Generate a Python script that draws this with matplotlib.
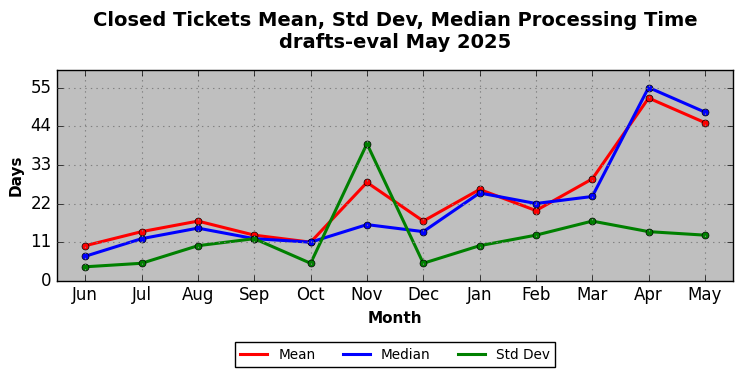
import matplotlib
matplotlib.use("Agg")
import matplotlib.pyplot as plt

months = ["Jun", "Jul", "Aug", "Sep", "Oct", "Nov", "Dec", "Jan", "Feb", "Mar", "Apr", "May"]
mean_days = [10, 14, 17, 13, 11, 28, 17, 26, 20, 29, 52, 45]
median_days = [7, 12, 15, 12, 11, 16, 14, 25, 22, 24, 55, 48]
std_days = [4, 5, 10, 12, 5, 39, 5, 10, 13, 17, 14, 13]
yticks = [0, 11, 22, 33, 44, 55]

plt.style.use("classic")
fig, ax = plt.subplots(figsize=(7.42, 3.78), dpi=100)
fig.patch.set_facecolor("white")
ax.set_facecolor("#bfbfbf")

x = list(range(len(months)))
ax.plot(x, mean_days, color="red", lw=2.2, marker="o", ms=5, mec="black", label="Mean")
ax.plot(x, median_days, color="blue", lw=2.2, marker="o", ms=5, mec="black", label="Median")
ax.plot(x, std_days, color="green", lw=2.2, marker="o", ms=5, mec="black", label="Std Dev")

ax.set_xticks(x)
ax.set_xticklabels(months)
ax.set_yticks(yticks)
ax.set_xlim(-0.5, len(months) - 0.5)
ax.set_ylim(0, 60)
ax.tick_params(labelsize=12)
ax.grid(True, color="gray", linestyle=":", linewidth=0.8)

ax.set_xlabel("Month", fontsize=11, fontweight="bold")
ax.set_ylabel("Days", fontsize=11, fontweight="bold")
ax.set_title("Closed Tickets Mean, Std Dev, Median Processing Time\ndrafts-eval May 2025",
             fontsize=14, fontweight="bold", pad=16)

leg = ax.legend(loc="upper center", bbox_to_anchor=(0.5, -0.26), ncol=3, fontsize=9.8,
                frameon=True, fancybox=False, numpoints=1)
leg.get_frame().set_edgecolor("black")
for line in leg.get_lines():
    line.set_marker("")

fig.subplots_adjust(left=0.077, right=0.988, top=0.815, bottom=0.257)
fig.savefig("out.png", dpi=100)
